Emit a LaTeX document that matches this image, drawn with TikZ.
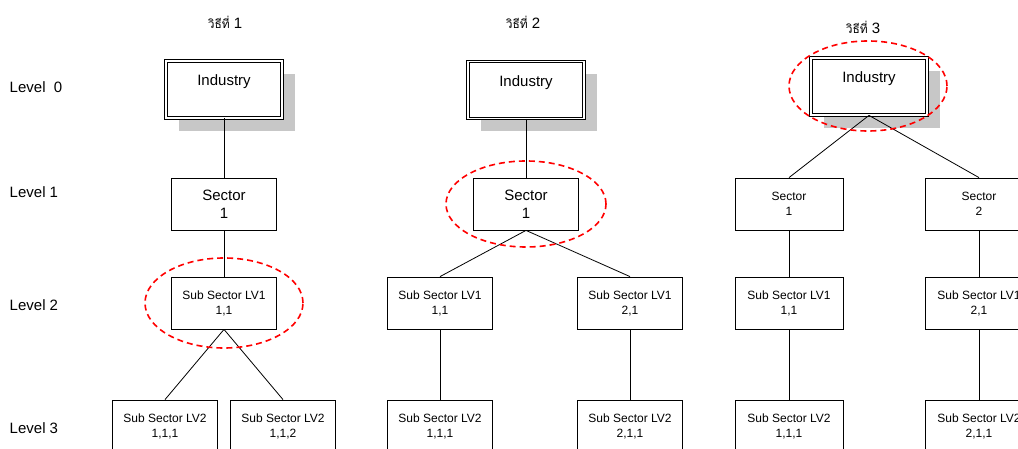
\documentclass[tikz,border=0pt]{standalone}
\usepackage{fontspec}
\setmainfont{Liberation Sans}
\newfontfamily\thaifont[Script=Thai]{Loma}
\usetikzlibrary{shadows}

\begin{document}
\begin{tikzpicture}[x=1pt,y=-1pt,line width=0.8pt,
  big/.style={font=\fontsize{15}{18}\selectfont},
  small/.style={font=\fontsize{12}{15}\selectfont},
  box/.style={draw,fill=white,align=center,inner sep=2pt,minimum width=105pt,minimum height=52pt},
  indbox/.style={box,big,double,double distance=1.6pt,minimum width=116pt,minimum height=57pt,
    drop shadow={shadow xshift=13pt,shadow yshift=-13pt,fill=black!22,opacity=1}},
  ring/.style={draw=red,line width=1.6pt,dash pattern=on 6pt off 4pt},
  link/.style={draw,line width=0.8pt}]
\useasboundingbox (0,0) rectangle (1018,449);
\clip (0,0) rectangle (1018,449);
% level labels
\node[big,anchor=west] (lv0) at (6,87) {Level \ 0};
\node[big,anchor=west] (lv1) at (6,192) {Level 1};
\node[big,anchor=west] (lv2) at (6,305) {Level 2};
\node[big,anchor=west] (lv3) at (6,428) {Level 3};
% method 1
\node[big] (m1) at (225,22) {{\thaifont\fontsize{12}{14}\selectfont วิธีที่} 1};
\node[indbox] (ind1) at (224,89.5) {Industry\\\mbox{}};
\node[box,big] (sec1a) at (224,204) {Sector\\1};
\node[box,small] (sub1a) at (224,303) {Sub Sector LV1\\1,1};
\node[box,small] (ss1a) at (165,426) {Sub Sector LV2\\1,1,1};
\node[box,small] (ss1b) at (283,426) {Sub Sector LV2\\1,1,2};
\draw[link] (ind1.south) -- (sec1a.north);
\draw[link] (sec1a.south) -- (sub1a.north);
\draw[link] (sub1a.south) -- (ss1a.north);
\draw[link] (sub1a.south) -- (ss1b.north);
\draw[ring] (sub1a.center) ellipse (79pt and 45pt);
% method 2
\node[big] (m2) at (523,22) {{\thaifont\fontsize{12}{14}\selectfont วิธีที่} 2};
\node[indbox] (ind2) at (526,90) {Industry\\\mbox{}};
\node[box,big] (sec2a) at (526,204) {Sector\\1};
\node[box,small] (sub2a) at (440,303) {Sub Sector LV1\\1,1};
\node[box,small] (sub2b) at (630,303) {Sub Sector LV1\\2,1};
\node[box,small] (ss2a) at (440,426) {Sub Sector LV2\\1,1,1};
\node[box,small] (ss2b) at (630,426) {Sub Sector LV2\\2,1,1};
\draw[link] (ind2.south) -- (sec2a.north);
\draw[link] (sec2a.south) -- (sub2a.north);
\draw[link] (sec2a.south) -- (sub2b.north);
\draw[link] (sub2a.south) -- (ss2a.north);
\draw[link] (sub2b.south) -- (ss2b.north);
\draw[ring] (sec2a.center) ellipse (80pt and 43pt);
% method 3
\node[big] (m3) at (863,27) {{\thaifont\fontsize{12}{14}\selectfont วิธีที่} 3};
\node[indbox] (ind3) at (869,86.5) {Industry\\\mbox{}};
\node[box,small,minimum width=108pt] (sec3a) at (789,204) {Sector\\1};
\node[box,small,minimum width=108pt] (sec3b) at (979,204) {Sector\\2};
\node[box,small,minimum width=108pt] (sub3a) at (789,303) {Sub Sector LV1\\1,1};
\node[box,small,minimum width=108pt] (sub3b) at (979,303) {Sub Sector LV1\\2,1};
\node[box,small,minimum width=108pt] (ss3a) at (789,426) {Sub Sector LV2\\1,1,1};
\node[box,small,minimum width=108pt] (ss3b) at (979,426) {Sub Sector LV2\\2,1,1};
\draw[link] (ind3.south) -- (sec3a.north);
\draw[link] (ind3.south) -- (sec3b.north);
\draw[link] (sec3a.south) -- (sub3a.north);
\draw[link] (sec3b.south) -- (sub3b.north);
\draw[link] (sub3a.south) -- (ss3a.north);
\draw[link] (sub3b.south) -- (ss3b.north);
\draw[ring] (868,86) ellipse (79pt and 45pt);
\end{tikzpicture}
\end{document}
